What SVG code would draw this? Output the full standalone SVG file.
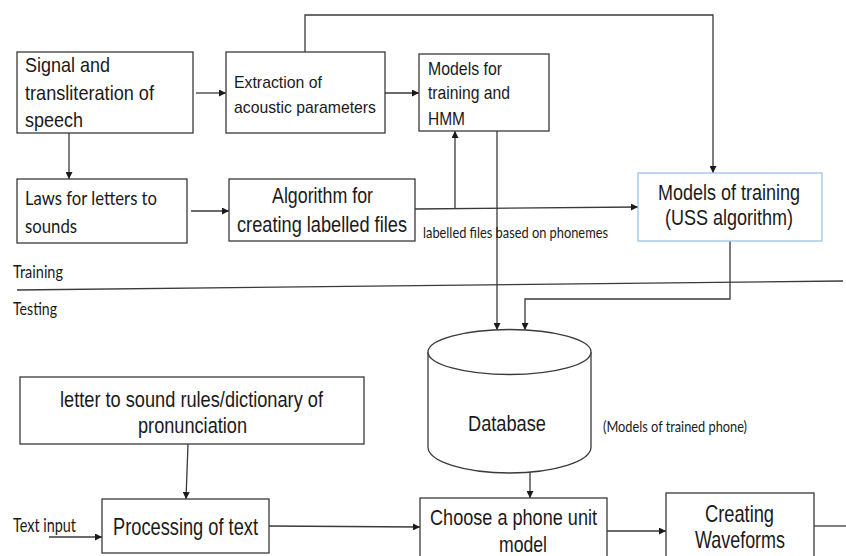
<svg xmlns="http://www.w3.org/2000/svg" width="846" height="556" viewBox="0 0 846 556">
<style>
  .box { fill: #ffffff; stroke: #3a3a3a; stroke-width: 1.3; }
  .blue { fill: #ffffff; stroke: #9dc3e6; stroke-width: 1.3; }
  .ln { fill: none; stroke: #3a3a3a; stroke-width: 1.3; }
  .arr { fill: none; stroke: #3a3a3a; stroke-width: 1.3; marker-end: url(#ah); }
  .a { font-family: "Liberation Sans", Arial, sans-serif; fill: #1a1a1a; }
  .c { font-family: Lato, "Open Sans", sans-serif; fill: #1a1a1a; }
</style>
<defs>
  <marker id="ah" viewBox="0 0 10 10" refX="10" refY="5" markerWidth="7" markerHeight="7" markerUnits="userSpaceOnUse" orient="auto">
    <path d="M0,0 L10,5 L0,10 z" fill="#1a1a1a"/>
  </marker>
</defs>
<rect width="846" height="556" fill="#ffffff"/>

<g id="connectors">
  <path class="arr" d="M196,93 L226,93"/>
  <path class="arr" d="M385,93 L419,93"/>
  <path class="arr" d="M305,52 L305,15 L713,15 L713,173"/>
  <path class="arr" d="M69,133 L69,179"/>
  <path class="arr" d="M191,211 L229,211"/>
  <path class="arr" d="M415,209 L638,207"/>
  <path class="arr" d="M455,209 L455,131"/>
  <path class="arr" d="M497,131 L497,330"/>
  <path class="arr" d="M730,241 L730,299 L525,299 L525,330"/>
  <path class="ln" d="M17,290 L843,281"/>
  <path class="arr" d="M188,444 L186,499"/>
  <path class="arr" d="M49,537 L102,537"/>
  <path class="arr" d="M269,526 L420,527"/>
  <path class="arr" d="M530,472 L530,498"/>
  <path class="arr" d="M607,531 L666,531"/>
  <path class="ln" d="M814,526 L846,526"/>
</g>

<g id="signal">
  <rect class="box" x="17" y="52" width="176" height="81"/>
  <text class="a" font-size="21" x="25" y="72" textLength="85" lengthAdjust="spacingAndGlyphs">Signal and</text>
  <text class="a" font-size="21" x="25" y="100" textLength="129" lengthAdjust="spacingAndGlyphs">transliteration of</text>
  <text class="a" font-size="21" x="25" y="127" textLength="58" lengthAdjust="spacingAndGlyphs">speech</text>
</g>

<g id="extraction">
  <rect class="box" x="226" y="52" width="159" height="81"/>
  <text class="a" font-size="17" x="234" y="88" textLength="88" lengthAdjust="spacingAndGlyphs">Extraction of</text>
  <text class="a" font-size="17" x="234" y="113" textLength="142" lengthAdjust="spacingAndGlyphs">acoustic parameters</text>
</g>

<g id="hmm">
  <rect class="box" x="419" y="54" width="130" height="77"/>
  <text class="a" font-size="19" x="428" y="75" textLength="74" lengthAdjust="spacingAndGlyphs">Models for</text>
  <text class="a" font-size="19" x="428" y="99" textLength="82" lengthAdjust="spacingAndGlyphs">training and</text>
  <text class="a" font-size="19" x="428" y="125" textLength="37" lengthAdjust="spacingAndGlyphs">HMM</text>
</g>

<g id="laws">
  <rect class="box" x="17" y="179" width="170" height="64"/>
  <text class="c" font-size="19" x="25" y="205" textLength="132" lengthAdjust="spacingAndGlyphs">Laws for letters to</text>
  <text class="c" font-size="19" x="25" y="233" textLength="52" lengthAdjust="spacingAndGlyphs">sounds</text>
</g>

<g id="algorithm">
  <rect class="box" x="229" y="179" width="186" height="62"/>
  <text class="a" font-size="22" x="272" y="203" textLength="101" lengthAdjust="spacingAndGlyphs">Algorithm for</text>
  <text class="a" font-size="22" x="237" y="232" textLength="170" lengthAdjust="spacingAndGlyphs">creating labelled files</text>
</g>

<g id="label-phonemes">
  <text class="c" font-size="15" x="423" y="238" textLength="185" lengthAdjust="spacingAndGlyphs">labelled files based on phonemes</text>
</g>

<g id="uss">
  <rect class="blue" x="638" y="173" width="184" height="68"/>
  <text class="a" font-size="22" x="658" y="200" textLength="142" lengthAdjust="spacingAndGlyphs">Models of training</text>
  <text class="a" font-size="22" x="665" y="225" textLength="128" lengthAdjust="spacingAndGlyphs">(USS algorithm)</text>
</g>

<g id="phase-labels">
  <text class="c" font-size="18" x="13" y="278" textLength="50" lengthAdjust="spacingAndGlyphs">Training</text>
  <text class="c" font-size="18" x="13" y="315" textLength="44" lengthAdjust="spacingAndGlyphs">Testing</text>
</g>

<g id="database">
  <path class="box" d="M428,352 L428,447 A81.5,26 0 0 0 591,447 L591,352"/>
  <ellipse class="box" cx="509.5" cy="352" rx="81.5" ry="22.5"/>
  <text class="a" font-size="22" x="468" y="431" textLength="78" lengthAdjust="spacingAndGlyphs">Database</text>
  <text class="c" font-size="16" x="603" y="432" textLength="144" lengthAdjust="spacingAndGlyphs">(Models of trained phone)</text>
</g>

<g id="dictionary">
  <rect class="box" x="20" y="377" width="344" height="67"/>
  <text class="a" font-size="22" x="60" y="407" textLength="263" lengthAdjust="spacingAndGlyphs">letter to sound rules/dictionary of</text>
  <text class="a" font-size="22" x="138" y="433" textLength="109" lengthAdjust="spacingAndGlyphs">pronunciation</text>
</g>

<g id="text-input">
  <text class="c" font-size="19" x="13" y="532" textLength="63" lengthAdjust="spacingAndGlyphs">Text input</text>
</g>

<g id="processing">
  <rect class="box" x="102" y="499" width="167" height="54"/>
  <text class="a" font-size="24" x="113" y="535" textLength="145" lengthAdjust="spacingAndGlyphs">Processing of text</text>
</g>

<g id="choose">
  <rect class="box" x="420" y="498" width="187" height="70"/>
  <text class="a" font-size="22" x="430" y="525" textLength="167" lengthAdjust="spacingAndGlyphs">Choose a phone unit</text>
  <text class="a" font-size="22" x="499" y="552" textLength="48" lengthAdjust="spacingAndGlyphs">model</text>
</g>

<g id="waveforms">
  <rect class="box" x="666" y="493" width="148" height="75"/>
  <text class="a" font-size="24" x="705" y="522" textLength="69" lengthAdjust="spacingAndGlyphs">Creating</text>
  <text class="a" font-size="24" x="695" y="548" textLength="90" lengthAdjust="spacingAndGlyphs">Waveforms</text>
</g>
</svg>
